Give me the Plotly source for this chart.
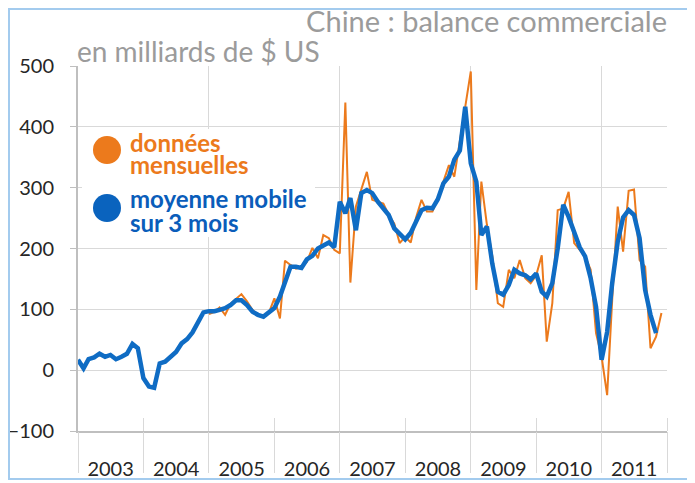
import pandas as pd
import plotly.graph_objects as go

# Chine : balance commerciale, en milliards de $ US
# moyenne mobile sur 3 mois, janv. 2003 - nov. 2011
moyenne_mobile = [
    17, 3, 18, 21, 27, 22, 25, 18, 22, 27, 43, 36,              # 2003
    -13, -27, -29, 11, 14, 21, 30, 44, 51, 62, 77, 95,          # 2004
    97, 97, 99, 102, 107, 115, 115, 107, 96, 91, 88, 96,        # 2005
    102, 121, 145, 170, 170, 168, 182, 188, 200, 205, 210, 202, # 2006
    277, 258, 283, 230, 291, 296, 291, 277, 266, 255, 233, 225, # 2007
    215, 226, 246, 263, 267, 266, 281, 307, 318, 346, 361, 433, # 2008
    340, 310, 222, 236, 175, 129, 124, 140, 165, 159, 156, 149, # 2009
    159, 129, 121, 143, 200, 272, 252, 228, 202, 187, 151, 104, # 2010
    17, 63, 143, 211, 251, 263, 255, 217, 132, 91, 61,          # 2011
]

# données mensuelles, janv. 2005 - déc. 2011
donnees_mensuelles = [
    92, 96, 103, 91, 109, 118, 125, 113, 99, 91, 88, 94,        # 2005
    118, 85, 180, 173, 167, 170, 178, 201, 184, 222, 217, 198,  # 2006
    192, 440, 144, 269, 299, 326, 280, 277, 274, 255, 241, 209, # 2007
    219, 210, 250, 280, 261, 261, 283, 310, 337, 318, 378, 430, # 2008
    491, 132, 310, 239, 188, 110, 104, 165, 151, 181, 151, 143, # 2009
    156, 189, 47, 110, 263, 266, 293, 209, 198, 187, 165, 61,   # 2010
    22, -41, 115, 269, 195, 295, 297, 181, 170, 36, 55, 94,     # 2011
]

annees = list(range(2003, 2012))
y_ticks = [-100, 0, 100, 200, 300, 400, 500]

ORANGE = "#EC7A1C"
BLEU = "#0F6CC4"
GRILLE = "#d9d9d9"
AXE = "#bfbfbf"

mois_mm = pd.date_range("2003-01-01", periods=len(moyenne_mobile), freq="MS")
mois_dm = pd.date_range("2005-01-01", periods=len(donnees_mensuelles), freq="MS")

fig = go.Figure()
fig.add_trace(go.Scatter(x=mois_dm, y=donnees_mensuelles, mode="lines",
                         line=dict(color=ORANGE, width=2), name="données mensuelles"))
fig.add_trace(go.Scatter(x=mois_mm, y=moyenne_mobile, mode="lines",
                         line=dict(color=BLEU, width=4.5), name="moyenne mobile sur 3 mois"))
# trace vide pour l'axe des étiquettes d'années
fig.add_trace(go.Scatter(x=[], y=[], xaxis="x2", showlegend=False, hoverinfo="skip"))

debut, fin = "2003-01-01", "2012-01-01"
bornes = [f"{a}-01-01" for a in annees + [2012]]

# la page a une marge de 8 px : la figure commence à (8, 8) dans la fenêtre 695x483
DEC = 8
FIG_W, FIG_H = 695 - DEC, 483 - DEC
# zone de tracé (coordonnées fenêtre) : x 78 -> 667 px, y 66 -> 431 px
X0, X1, Y0, Y1 = 78, 667, 66, 431
W, H = X1 - X0, Y1 - Y0


def px_x(p):
    return (p - X0) / W


def px_y(p):
    return (Y1 - p) / H


fig.update_layout(
    width=FIG_W, height=FIG_H,
    margin=dict(l=X0 - DEC, r=695 - X1, t=Y0 - DEC, b=483 - Y1, autoexpand=False),
    paper_bgcolor="white", plot_bgcolor="white",
    font=dict(family="Lato, sans-serif", color="#262626"),
    showlegend=False,
    title=dict(text="Chine : balance commerciale", x=1, xref="paper", xanchor="right",
               y=1 - (22 - DEC) / FIG_H, yref="container", yanchor="middle", automargin=False,
               font=dict(size=29, color="#9b9b9b")),
    xaxis=dict(type="date", range=[debut, fin], tickmode="array", automargin=False,
               tickvals=bornes[::2], showgrid=True, gridcolor=GRILLE, gridwidth=1,
               ticks="", showticklabels=False, zeroline=False,
               showline=True, linecolor=AXE, linewidth=2,
               minor=dict(tickmode="array", tickvals=bornes[1::2], ticks="inside",
                          ticklen=13, tickcolor=GRILLE, tickwidth=1, showgrid=False)),
    xaxis2=dict(type="date", overlaying="x", anchor="y", side="bottom", range=[debut, fin],
                automargin=False,
                tickmode="array", tickvals=[f"{a}-07-02" for a in annees],
                ticktext=[str(a) for a in annees], ticks="", ticklabelstandoff=24,
                showgrid=False, showline=False, zeroline=False,
                tickfont=dict(size=20, color="#262626"),
                minor=dict(tickmode="array", tickvals=bornes, ticks="outside",
                           ticklen=41, tickcolor=GRILLE, tickwidth=1, showgrid=False)),
    yaxis=dict(range=[-100, 500], tickmode="array", tickvals=y_ticks, automargin=False,
               showgrid=True, gridcolor=GRILLE, gridwidth=1, zeroline=False,
               showline=True, linecolor=AXE, linewidth=2,
               ticks="outside", ticklen=6, tickcolor=AXE,
               tickfont=dict(size=20, color="#262626"), ticklabelstandoff=12),
)

# sous-titre
fig.add_annotation(text="en milliards de $ US", xref="paper", yref="paper",
                   x=px_x(75), y=px_y(51), xanchor="left", yanchor="middle",
                   showarrow=False, font=dict(size=28, color="#9b9b9b"))

# légende manuelle sur fond blanc
fig.add_shape(type="rect", xref="paper", yref="paper", x0=px_x(82), x1=px_x(315),
              y0=px_y(237), y1=px_y(129), fillcolor="white", line=dict(width=0), layer="above")
for couleur, yc in [(ORANGE, 150), ("#0A63BE", 208)]:
    fig.add_shape(type="circle", xref="paper", yref="paper",
                  xsizemode="pixel", ysizemode="pixel", xanchor=px_x(107), yanchor=px_y(yc),
                  x0=-14, x1=14, y0=-14, y1=14,
                  fillcolor=couleur, line=dict(width=0), layer="above")

lignes_legende = [
    ("données", 142, ORANGE),
    ("mensuelles", 164, ORANGE),
    ("moyenne mobile", 199, "#0A5DBA"),
    ("sur 3 mois", 222, "#0A5DBA"),
]
for texte, yc, couleur in lignes_legende:
    fig.add_annotation(text=f"<b>{texte}</b>", xref="paper", yref="paper",
                       x=px_x(128), y=px_y(yc), xanchor="left", yanchor="middle",
                       showarrow=False, font=dict(size=24, color=couleur))

# cadre bleu clair autour du graphique
fig.add_shape(type="rect", xref="paper", yref="paper",
              x0=px_x(9), x1=px_x(689), y0=px_y(479), y1=px_y(9),
              line=dict(color="#a3cbee", width=2), layer="above")

fig.write_html("out.html")
